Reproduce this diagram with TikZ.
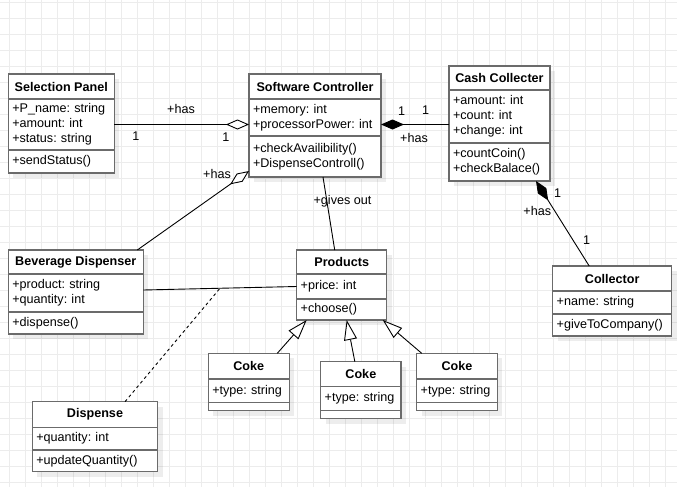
\documentclass[tikz,border=0pt]{standalone}
\usepackage{fontspec}
\setmainfont{Liberation Sans}
\usetikzlibrary{positioning,arrows.meta,shadows,calc}
\definecolor{boxgray}{RGB}{107,107,107}
\definecolor{gridgray}{RGB}{236,236,236}
\begin{document}
\begin{tikzpicture}[x=1pt,y=-1pt,
    font=\fontsize{12.6}{15}\selectfont\frenchspacing,
    cls/.style={draw=boxgray,line width=1.3pt,fill=white,inner xsep=4pt,inner ysep=0pt,outer sep=0pt,
        drop shadow={shadow xshift=5pt,shadow yshift=-5pt,fill=black,opacity=0.07}},
    ttl/.style={cls,font=\fontsize{12.6}{15}\selectfont\bfseries},
    sec/.style={cls,align=left},
    link/.style={line width=0.9pt},
    agg/.style={link,-{Diamond[fill=white,length=23pt,width=10pt]}},
    comp/.style={link,-{Diamond[length=23pt,width=10pt]}},
    gen/.style={link,-{Triangle[fill=white,length=20pt,width=13pt]}},
    lbl/.style={inner sep=0pt}]
    \useasboundingbox (0,0) rectangle (677,487);
    % grid
    \foreach \gx in {9.3,25.3,...,677} \draw[gridgray,line width=0.8pt] (\gx,0) -- (\gx,487);
    \foreach \gy in {2.3,18.3,...,487} \draw[gridgray,line width=0.8pt] (0,\gy) -- (677,\gy);
    % Selection Panel
    \node[ttl,minimum width=106,minimum height=25,anchor=north west] (sp) at (8.3,74) {Selection Panel};
    \node[sec,text width=98,minimum height=51,below=0pt of sp] (spa) {+P\_name: string\\+amount: int\\+status: string};
    \node[sec,text width=98,minimum height=23,below=0pt of spa] (spm) {+sendStatus()};
    % Software Controller
    \node[ttl,minimum width=132,minimum height=25,anchor=north west] (sc) at (249,74) {Software Controller};
    \node[sec,text width=124,minimum height=37,below=0pt of sc] (sca) {+memory: int\\+processorPower: int};
    \node[sec,text width=124,minimum height=41,below=0pt of sca] (scm) {+checkAvailibility()\\+DispenseControll()};
    % Cash Collecter
    \node[ttl,minimum width=101,minimum height=24,anchor=north west] (cc) at (449,66) {Cash Collecter};
    \node[sec,text width=93,minimum height=53,below=0pt of cc] (cca) {+amount: int\\+count: int\\+change: int};
    \node[sec,text width=93,minimum height=38,below=0pt of cca] (ccm) {+countCoin()\\+checkBalace()};
    % Collector
    \node[ttl,minimum width=119,minimum height=25,anchor=north west] (co) at (552.7,266) {Collector};
    \node[sec,text width=111,minimum height=23,below=0pt of co] (coa) {+name: string};
    \node[sec,text width=111,minimum height=22,below=0pt of coa] (com) {+giveToCompany()};
    % Beverage Dispenser
    \node[ttl,minimum width=135,minimum height=24,anchor=north west] (bd) at (8.3,250) {Beverage Dispenser};
    \node[sec,text width=127,minimum height=38,below=0pt of bd] (bda) {+product: string\\+quantity: int};
    \node[sec,text width=127,minimum height=22,below=0pt of bda] (bdm) {+dispense()};
    % Products
    \node[ttl,minimum width=90,minimum height=24,anchor=north west] (pr) at (296.7,250) {Products};
    \node[sec,text width=82,minimum height=25,below=0pt of pr] (pra) {+price: int};
    \node[sec,text width=82,minimum height=21,below=0pt of pra] (prm) {+choose()};
    % Coke classes
    \node[ttl,minimum width=81,minimum height=25.7,anchor=north west] (k1) at (208.3,353.3) {Coke};
    \node[sec,text width=73,minimum height=23.7,below=0pt of k1] (k1a) {+type: string};
    \node[sec,text width=73,minimum height=8,below=0pt of k1a] (k1m) {};
    \node[ttl,minimum width=80.3,minimum height=25,anchor=north west] (k2) at (320.7,361.7) {Coke};
    \node[sec,text width=72.3,minimum height=24,below=0pt of k2] (k2a) {+type: string};
    \node[sec,text width=72.3,minimum height=8,below=0pt of k2a] (k2m) {};
    \node[ttl,minimum width=80.6,minimum height=25.7,anchor=north west] (k3) at (416.7,353.3) {Coke};
    \node[sec,text width=72.6,minimum height=23.7,below=0pt of k3] (k3a) {+type: string};
    \node[sec,text width=72.6,minimum height=8,below=0pt of k3a] (k3m) {};
    % Dispense
    \node[ttl,minimum width=125.4,minimum height=25.6,anchor=north west] (ds) at (32.3,401.7) {Dispense};
    \node[sec,text width=117.4,minimum height=22.7,below=0pt of ds] (dsa) {+quantity: int};
    \node[sec,text width=117.4,minimum height=21.7,below=0pt of dsa] (dsm) {+updateQuantity()};
    % connectors
    \draw[agg] (spa.east) -- (spa.east -| sca.west);
    \draw[agg] ([xshift=-6pt]bd.north east) -- ([yshift=6pt]scm.south west);
    \draw[comp] ([yshift=-8pt]cca.west) -- ([yshift=-8pt]cca.west -| sca.east);
    \draw[link] ([xshift=8pt]scm.south) -- ([xshift=-7pt]pr.north);
    \draw[comp] ([xshift=-23pt]co.north) -- ([xshift=-14pt]ccm.south east);
    \draw[link] ([yshift=3pt]bda.east) -- coordinate (mid) (pra.west);
    \draw[link,dash pattern=on 3pt off 3pt] ([xshift=30pt]ds.north) -- (mid);
    \draw[gen] ([xshift=-12pt]k1.north east) -- ([xshift=-35pt]prm.south);
    \draw[gen] ([xshift=-6pt]k2.north) -- ([xshift=5pt]prm.south);
    \draw[gen] ([xshift=5pt]k3.north west) -- ([xshift=-4pt]prm.south east);
    % labels
    \node[lbl] (h1) at (181,109) {+has};
    \node[lbl] (n1) at (136,136) {1};
    \node[lbl] (n2) at (226,137) {1};
    \node[lbl] (h2) at (217,174) {+has};
    \node[lbl] (go) at (342.5,201.7) {+gives out};
    \node[lbl] (n3) at (401.7,111) {1};
    \node[lbl] (n4) at (425.7,110) {1};
    \node[lbl] (h3) at (414,137.7) {+has};
    \node[lbl] (n5) at (557.7,192.7) {1};
    \node[lbl] (h4) at (537.3,211) {+has};
    \node[lbl] (n6) at (586.7,240) {1};
\end{tikzpicture}
\end{document}
